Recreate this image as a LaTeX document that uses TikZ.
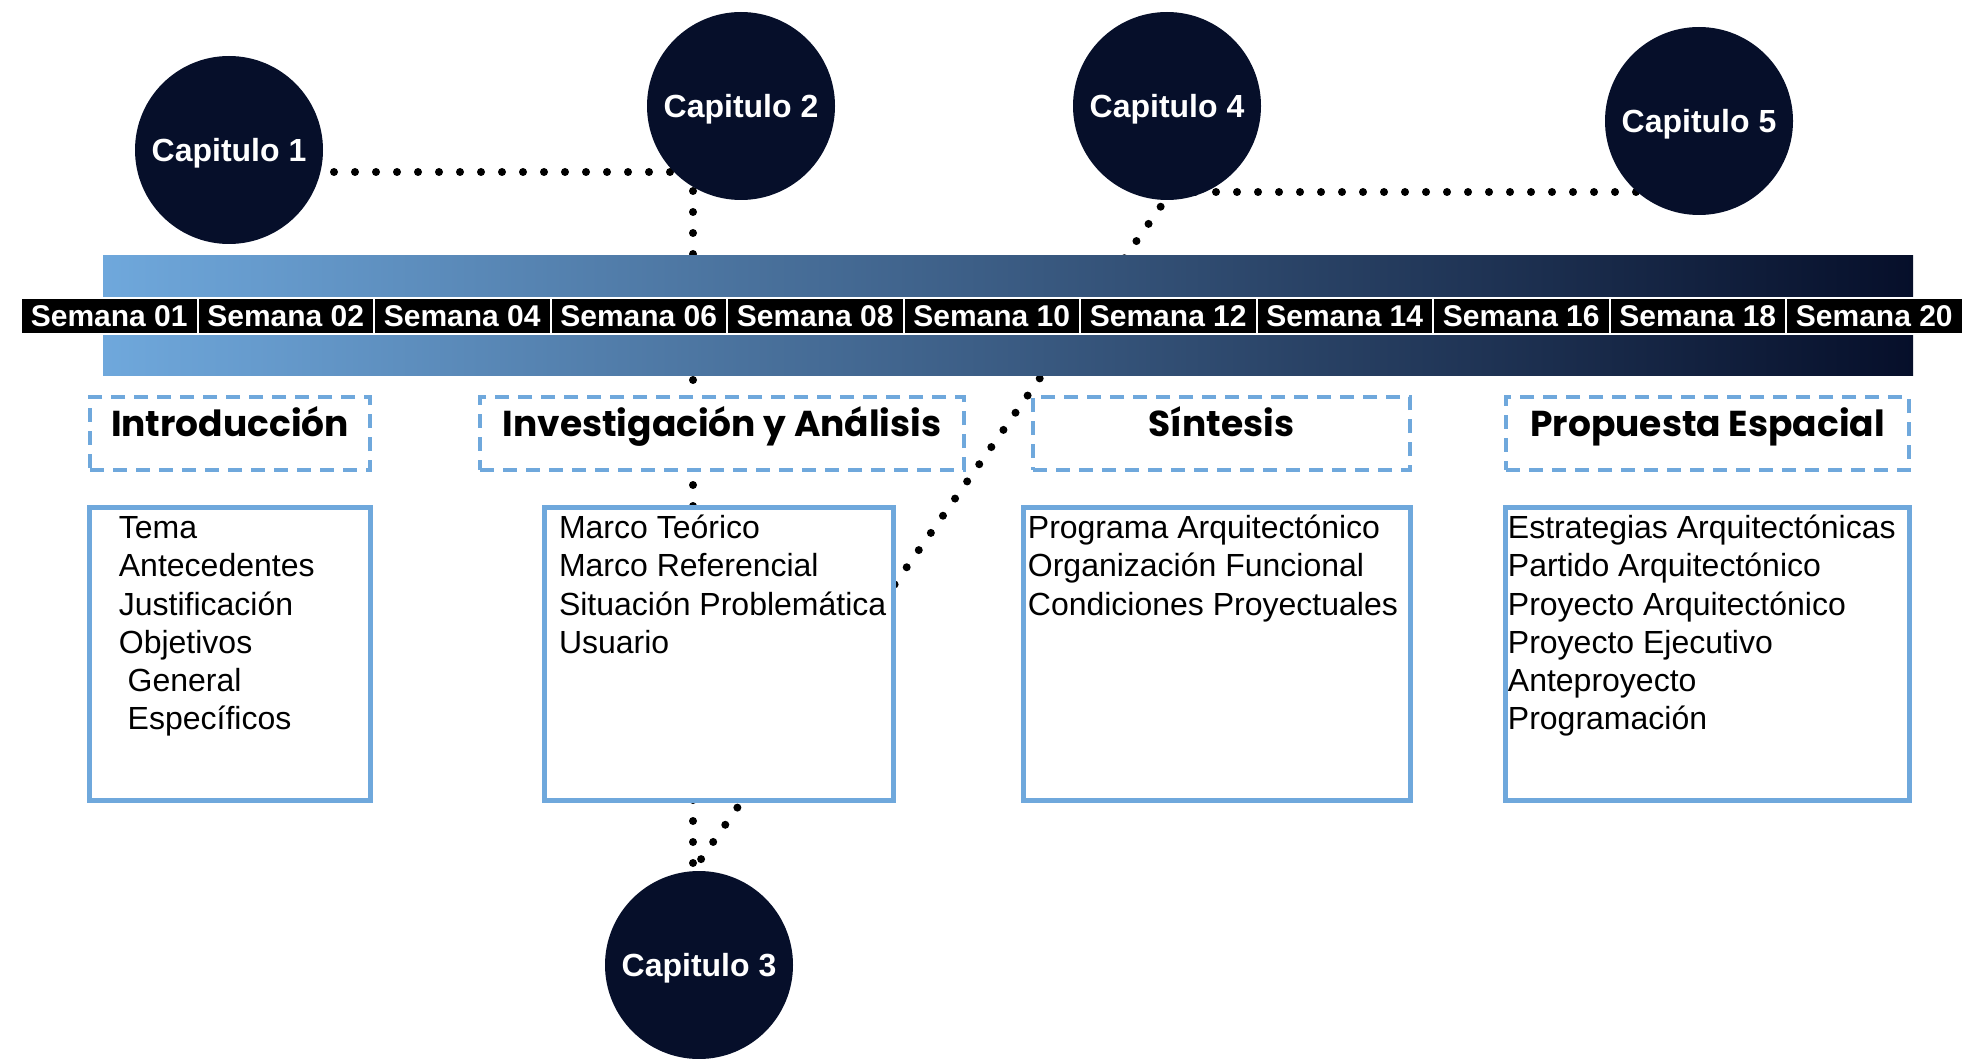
\documentclass[tikz,border=0pt]{standalone}
\usepackage{fontspec}
\setmainfont{Liberation Sans}
\newfontfamily\titlefont{Poppins}
\usetikzlibrary{backgrounds}
\definecolor{navy}{RGB}{6,15,42}
\definecolor{skyline}{RGB}{111,168,220}

\begin{document}
\begin{tikzpicture}[x=0.5pt, y=-0.5pt,
  chap/.style={circle, fill=navy, minimum size=94pt, inner sep=0pt, text=white,
    font=\fontsize{16}{19}\selectfont\bfseries, text height=11.4pt, text depth=0pt},
  week/.style={draw=white, line width=1pt, fill=black, minimum width=88.25pt, minimum height=18pt,
    inner sep=0pt, text=white, font=\fontsize{15}{18}\selectfont\bfseries, text height=10.7pt, text depth=0pt},
  phase/.style={draw=skyline, line width=2pt, dash pattern=on 7pt off 4.5pt, fill=white,
    minimum height=36.5pt, inner sep=0pt, font=\titlefont\fontsize{18}{20}\selectfont\bfseries,
    text height=14pt, text depth=11.5pt},
  topics/.style={draw=skyline, line width=2.5pt, fill=white, minimum height=146.5pt, inner sep=0pt},
  items/.style={anchor=north west, align=left, inner sep=0pt, font=\fontsize{16}{19.15}\selectfont},
  ed/.style={line width=4pt, line cap=round, dash pattern=on 0pt off 10.5pt}]
\useasboundingbox (0,0) rectangle (1964,1059);
% timeline bar
\node[minimum width=905pt, minimum height=59.5pt, inner sep=0pt, left color=skyline, right color=navy]
  (bar) at (1008,315.5) {};
\foreach \w [count=\i] in {01,02,04,06,08,10,12,14,16,18,20}
  \node[week] (w\i) at ({21+176.5*(\i-0.5)},315.5) {Semana \w};
% phases
\node[phase, minimum width=140pt]   (p1) at (230,433.5)    {Introducción};
\node[phase, minimum width=242pt]   (p2) at (722,433.5)    {Investigación y Análisis};
\node[phase, minimum width=188.5pt] (p3) at (1221.5,433.5) {Síntesis};
\node[phase, minimum width=201.5pt] (p4) at (1707.5,433.5) {Propuesta Espacial};
% contents
\node[topics, minimum width=140.5pt] (b1) at (230,654)    {};
\node[topics, minimum width=174.5pt] (b2) at (719,654)    {};
\node[topics, minimum width=193.5pt] (b3) at (1217,654)   {};
\node[topics, minimum width=202pt]   (b4) at (1707.5,654) {};
\node[items] (t1) at (118.5,511.2) {\strut Tema\\Antecedentes\\Justificación\\Objetivos\\
  \hspace*{4.4pt}General\\\hspace*{4.4pt}Específicos};
\node[items] (t2) at (558.6,511.2) {\strut Marco Teórico\\Marco Referencial\\Situación Problemática\\Usuario};
\node[items] (t3) at (1027.5,511.2) {\strut Programa Arquitectónico\\Organización Funcional\\Condiciones Proyectuales};
\node[items] (t4) at (1507.5,511.2) {\strut Estrategias Arquitectónicas\\Partido Arquitectónico\\
  Proyecto Arquitectónico\\Proyecto Ejecutivo\\Anteproyecto\\Programación};
% chapters
\node[chap] (c1) at (229,150)  {Capitulo 1};
\node[chap] (c2) at (741,106)  {Capitulo 2};
\node[chap] (c3) at (699,965)  {Capitulo 3};
\node[chap] (c4) at (1167,106) {Capitulo 4};
\node[chap] (c5) at (1699,121) {Capitulo 5};
% dotted links, behind everything
\coordinate (k12) at (693,172);
\coordinate (k45) at (1171,192);
\begin{scope}[on background layer]
  \draw[ed] (c1 |- k12) -- (k12) -- (k12 |- c3.north);
  \draw[ed] (c5 |- k45) -- (k45) -- (k12 |- c3.north);
\end{scope}
\end{tikzpicture}
\end{document}
